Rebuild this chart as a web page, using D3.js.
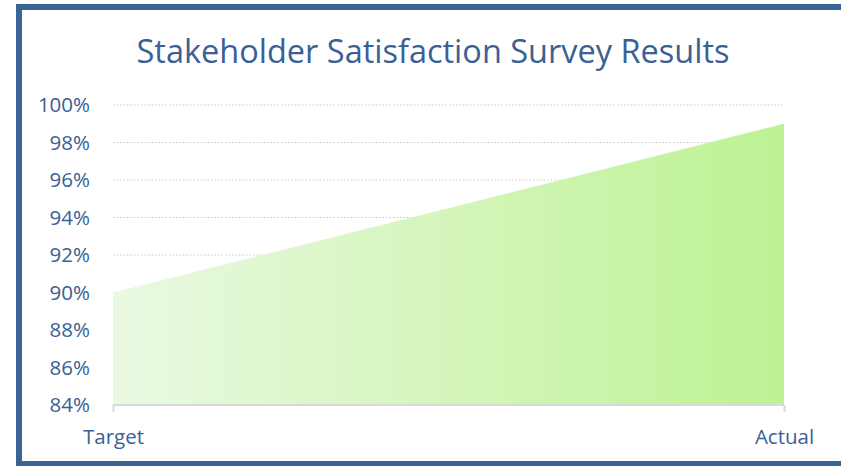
<!DOCTYPE html>
<html>
<head>
<meta charset="utf-8">
<script src="https://cdn.jsdelivr.net/npm/d3@7"></script>
<style>
  body { margin: 0; background: #fff; }
  text { font-family: "Open Sans", sans-serif; fill: #3a6094; }
</style>
</head>
<body>
<script>
// Data
const categories = ["Target", "Actual"];
const values = [0.90, 0.99];
const yTicks = [0.84, 0.86, 0.88, 0.90, 0.92, 0.94, 0.96, 0.98, 1.00];
const title = "Stakeholder Satisfaction Survey Results";

// Setup
const width = 841;
const height = 466;
const xStart = 113;
const xEnd = 784;
const yTop = 105;
const yBottom = 405;

const svg = d3.select("body")
    .append("svg")
    .attr("width", width)
    .attr("height", height);

// gradient for the area
const grad = svg.append("defs").append("linearGradient")
    .attr("id", "areaGrad")
    .attr("x1", "0%").attr("x2", "100%")
    .attr("y1", "0%").attr("y2", "0%");
grad.append("stop").attr("offset", "0%").attr("stop-color", "#eaf9e2");
grad.append("stop").attr("offset", "100%").attr("stop-color", "#bdf294");

// frame
svg.append("rect")
    .attr("x", 19).attr("y", 7)
    .attr("width", width + 20).attr("height", 457)
    .attr("fill", "none")
    .attr("stroke", "#3a6496")
    .attr("stroke-width", 6);

// title
svg.append("text")
    .attr("x", 433)
    .attr("y", 63)
    .attr("text-anchor", "middle")
    .style("font-size", "32.5px")
    .text(title);

// scales
const x = d3.scalePoint()
    .domain(categories)
    .range([xStart, xEnd]);

const y = d3.scaleLinear()
    .domain([0.84, 1.00])
    .range([yBottom, yTop]);

// gridlines
svg.append("g")
    .selectAll("line")
    .data(yTicks.filter(d => d > 0.84))
    .join("line")
    .attr("x1", xStart)
    .attr("x2", xEnd)
    .attr("y1", d => y(d))
    .attr("y2", d => y(d))
    .attr("stroke", "#c8c8c8")
    .attr("stroke-width", 1)
    .attr("stroke-dasharray", "1.5,2");

// area
const area = d3.area()
    .x((d, i) => x(categories[i]))
    .y0(y(0.84))
    .y1(d => y(d));

svg.append("path")
    .datum(values)
    .attr("d", area)
    .attr("fill", "url(#areaGrad)");

// y axis labels
const yAxis = svg.append("g")
    .attr("transform", `translate(${xStart}, 0)`)
    .call(d3.axisLeft(y).tickValues(yTicks).tickFormat(d3.format(".0%")).tickSize(0).tickPadding(23));
yAxis.select(".domain").remove();
yAxis.selectAll("text")
    .style("font-size", "20.5px")
    .attr("fill", "#3a6094")
    .attr("font-family", "'Open Sans', sans-serif");

// x axis
const xAxis = svg.append("g")
    .attr("transform", `translate(0, ${yBottom})`)
    .call(d3.axisBottom(x).tickSize(7).tickPadding(17));
xAxis.select(".domain")
    .attr("stroke", "#d9d9d9")
    .attr("stroke-width", 2)
    .attr("d", `M${xStart},0H${xEnd}`);
xAxis.selectAll(".tick line")
    .attr("stroke", "#d9d9d9")
    .attr("stroke-width", 2);
xAxis.selectAll("text")
    .style("font-size", "20.5px")
    .attr("fill", "#3a6094")
    .attr("font-family", "'Open Sans', sans-serif");
</script>
</body>
</html>
